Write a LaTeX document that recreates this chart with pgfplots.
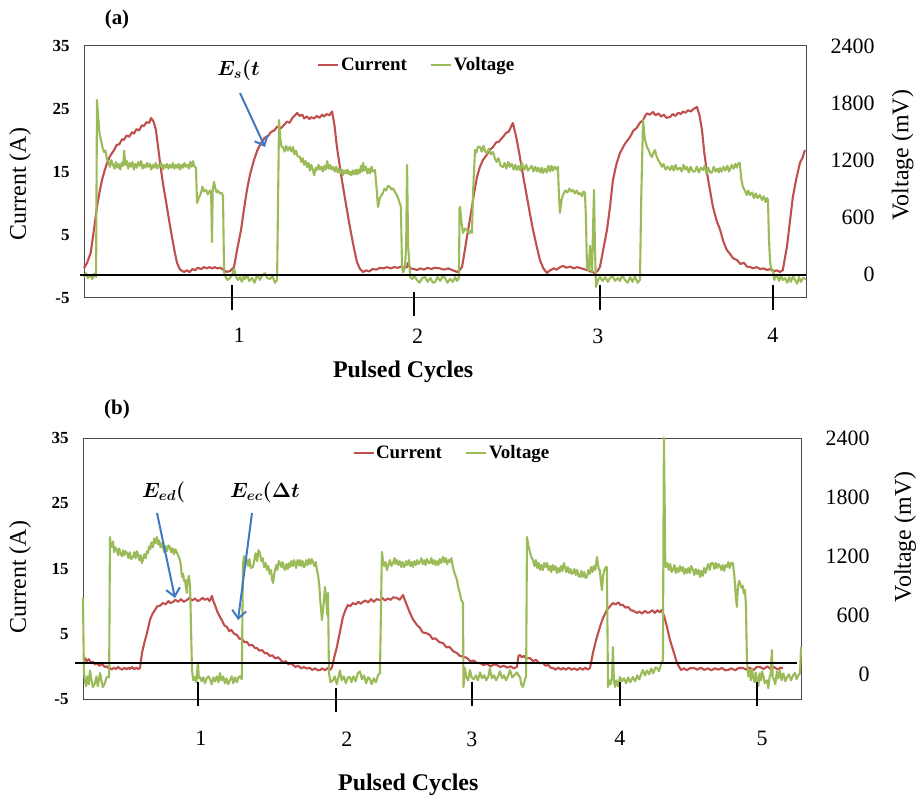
\documentclass[border=0pt]{standalone}
\usepackage{fontspec}
\setmainfont{Liberation Serif}
\usepackage{bm}
\usepackage{pgfplots}
\pgfplotsset{compat=1.18}
\usetikzlibrary{arrows.meta}
\definecolor{cur}{RGB}{192,80,77}
\definecolor{volt}{RGB}{155,187,89}
\definecolor{arr}{RGB}{65,120,195}
\tikzset{ttl/.style={font=\fontsize{24}{24}\selectfont, anchor=center}}
\pgfplotsset{
  leftax/.style={scale only axis, anchor=south west, clip=false,
    ymin=-5, ymax=35, ytick={-5,5,15,25,35}, yticklabels={-5,5,15,25,35},
    axis line style={draw=black!70, line width=1bp}, tick style={draw=none},
    yticklabel style={font=\bfseries\fontsize{17}{17}\selectfont, xshift=-11bp},
    xticklabel style={font=\fontsize{22}{22}\selectfont},
    ylabel={Current (A)}, xlabel={\textbf{Pulsed Cycles}}},
  rightax/.style={scale only axis, anchor=south west, clip=false,
    axis x line=none, axis y line*=right,
    ymin=-250, ymax=2400, ytick={0,600,1200,1800,2400}, yticklabels={0,600,1200,1800,2400},
    axis line style={draw=black!70, line width=1bp}, tick style={draw=none},
    yticklabel style={font=\fontsize{22}{22}\selectfont, anchor=east, xshift=72bp},
    ylabel={Voltage (mV)},
    legend image code/.code={\draw[##1] (0bp,0bp) -- (20bp,0bp);},
    legend style={draw=none, fill=none, anchor=west, legend columns=2,
      font=\bfseries\fontsize{19}{19}\selectfont, inner sep=0pt,
      nodes={inner sep=1.5bp},
      /tikz/every even column/.append style={column sep=22bp}}},
  cline/.style={cur, line width=2.1bp, line join=round},
  vline/.style={volt, line width=2.1bp, line join=round},
}
\begin{document}
\begin{tikzpicture}
\useasboundingbox (0,0) rectangle (919bp,800bp);
% ================= panel (a) =================
\begin{axis}[leftax, at={(84bp,502bp)}, width=722bp, height=252bp,
  xmin=0.179, xmax=4.184, xtick={1.04,2.03,3.03,4.0}, xticklabels={1,2,3,4},
  xticklabel style={yshift=-27bp},
  every axis x label/.style={at={(axis description cs:0.442,-0.294)}, ttl},
  every axis y label/.style={at={(axis description cs:-0.0886,0.452)}, rotate=90, ttl}]
\addplot[cline] coordinates {
(0.179,-0.24) (0.195,0.5) (0.216,2.14) (0.235,6.0) (0.251,9.44) (0.265,11.8) (0.279,13.73) (0.293,15.2) (0.307,16.43) (0.325,17.6) (0.346,18.49)
(0.36,19.3) (0.375,19.4) (0.39,20.2) (0.401,20.1) (0.415,20.8) (0.43,20.6) (0.445,21.3) (0.456,21.1) (0.47,21.8) (0.485,21.6) (0.50,22.4) (0.512,22.3) (0.525,22.9) (0.54,22.8) (0.551,23.57)
(0.565,23.0) (0.578,21.67) (0.592,18.5) (0.606,15.32) (0.622,12.3) (0.639,9.44) (0.653,7.0) (0.667,4.68) (0.681,2.5) (0.695,0.56) (0.712,-0.5) (0.734,-0.87)
(0.75,-0.6) (0.765,-0.9) (0.78,-0.4) (0.795,-0.6) (0.81,-0.2) (0.828,-0.4) (0.845,-0.1) (0.86,-0.3) (0.875,-0.1) (0.89,-0.3) (0.905,-0.1) (0.917,-0.3) (0.935,-0.2) (0.95,-0.5) (0.972,-0.87) (0.99,-0.7)
(1.011,-0.08) (1.03,2.9) (1.050,5.79) (1.066,9.0) (1.083,12.14) (1.10,14.6) (1.122,16.90) (1.14,18.4) (1.161,19.60) (1.18,20.4) (1.20,20.7) (1.216,21.35) (1.235,21.6) (1.25,22.2) (1.27,21.9) (1.288,22.46) (1.305,23.0) (1.32,22.8) (1.335,23.6) (1.35,24.0) (1.361,24.37) (1.375,23.9) (1.39,24.1) (1.40,23.5) (1.415,23.8) (1.43,23.4) (1.438,23.7) (1.455,23.5) (1.47,23.9) (1.485,23.6) (1.50,24.1) (1.510,23.8) (1.525,24.2) (1.54,24.0) (1.555,24.6)
(1.568,22.5) (1.582,18.97) (1.60,15.5) (1.616,12.62) (1.635,9.4) (1.654,6.27) (1.673,3.4) (1.693,0.71) (1.71,-0.4) (1.727,-0.87)
(1.745,-0.6) (1.76,-0.8) (1.78,-0.4) (1.80,-0.5) (1.821,-0.2) (1.84,-0.3) (1.86,-0.1) (1.88,-0.3) (1.90,-0.1) (1.92,-0.2) (1.94,0.0) (1.96,-0.2) (1.971,-0.08) (1.976,0.56) (1.99,-0.3) (2.01,-0.4) (2.026,-0.56) (2.045,-0.3) (2.065,-0.5) (2.085,-0.2) (2.105,-0.4) (2.125,-0.2) (2.154,-0.3) (2.175,-0.5) (2.20,-0.3) (2.225,-0.6) (2.248,-0.87) (2.262,-0.6)
(2.276,-0.08) (2.29,2.3) (2.303,4.68) (2.317,7.0) (2.331,9.44) (2.345,12.0) (2.359,14.21) (2.375,15.8) (2.392,16.90) (2.41,17.6) (2.43,18.5) (2.448,18.97) (2.465,19.7) (2.48,19.8) (2.503,20.56) (2.52,21.2) (2.535,21.4) (2.548,22.2) (2.558,22.78)
(2.577,20.5) (2.597,17.38) (2.616,14.2) (2.636,11.03) (2.653,8.3) (2.670,5.79) (2.69,3.2) (2.708,1.03) (2.727,-0.3) (2.747,-1.03)
(2.765,-0.6) (2.785,-0.3) (2.80,-0.5) (2.82,-0.1) (2.836,0.1) (2.855,-0.2) (2.875,0.0) (2.895,-0.3) (2.915,-0.1) (2.931,-0.24) (2.95,-0.4) (2.969,-0.56) (2.99,-0.8) (3.013,-1.03) (3.028,-0.7)
(3.041,-0.08) (3.06,2.8) (3.080,5.79) (3.097,9.5) (3.113,13.73) (3.132,16.2) (3.152,18.02) (3.18,19.5) (3.208,20.56) (3.225,21.5) (3.245,22.0) (3.262,22.8) (3.280,23.25) (3.30,24.3) (3.318,24.1) (3.335,24.52) (3.35,24.0) (3.365,24.3) (3.38,23.8) (3.395,24.1) (3.41,23.6) (3.430,23.73) (3.445,24.2) (3.46,23.9) (3.475,24.4) (3.49,24.2) (3.501,24.6) (3.515,24.4) (3.53,24.8) (3.545,24.6) (3.56,25.0) (3.579,25.32)
(3.593,24.0) (3.607,21.67) (3.62,18.0) (3.635,14.84) (3.652,12.0) (3.668,9.44) (3.688,7.3) (3.708,5.79) (3.725,4.0) (3.745,2.62) (3.765,1.9) (3.78,1.3) (3.801,1.03) (3.82,0.4) (3.84,0.6) (3.855,0.0) (3.873,-0.08) (3.89,-0.3) (3.91,-0.1) (3.93,-0.4) (3.95,-0.3) (3.967,-0.56) (3.985,-0.4) (4.005,-0.8) (4.02,-0.6) (4.039,-0.87) (4.055,-0.6)
(4.078,3.10) (4.095,7.2) (4.111,11.03) (4.13,13.9) (4.150,16.43) (4.165,17.3) (4.178,18.49)};
\end{axis}
\begin{axis}[rightax, at={(84bp,502bp)}, width=722bp, height=252bp,
  xmin=0.179, xmax=4.184,
  every axis y label/.style={at={(axis description cs:1.134,0.567)}, rotate=90, ttl},
  legend style={at={(0.323,0.925)}}]
\addlegendimage{cline}\addlegendentry{Current}
\addplot[vline] coordinates {
(0.179,-29) (0.19,10) (0.20,-40) (0.212,-8) (0.225,-50) (0.236,5) (0.246,-29)
(0.251,1832) (0.258,1650) (0.265,1480) (0.273,1412) (0.282,1330) (0.290,1285) (0.298,1300) (0.307,1201)
(0.315,1180) (0.323,1128) (0.331,1200) (0.340,1150) (0.348,1110) (0.356,1180) (0.364,1120) (0.372,1160) (0.380,1100) (0.388,1170) (0.396,1140) (0.402,1300) (0.408,1150) (0.416,1190) (0.424,1110) (0.432,1170) (0.440,1130) (0.448,1180) (0.456,1100) (0.464,1160) (0.472,1120) (0.480,1180) (0.488,1140) (0.496,1190) (0.504,1110) (0.512,1150) (0.520,1120) (0.528,1170) (0.536,1130) (0.544,1160) (0.552,1100) (0.560,1150) (0.568,1120) (0.576,1170) (0.584,1110) (0.592,1150) (0.600,1130) (0.608,1170) (0.616,1100) (0.624,1150) (0.632,1120) (0.640,1160) (0.648,1110) (0.656,1150) (0.664,1120) (0.672,1170) (0.680,1110) (0.688,1150) (0.696,1120) (0.704,1160) (0.712,1100) (0.720,1150) (0.728,1120) (0.736,1170) (0.744,1130) (0.752,1150) (0.760,1110) (0.768,1180) (0.776,1130) (0.784,1190) (0.789,1140)
(0.800,1120) (0.806,749) (0.815,800) (0.828,854) (0.836,920) (0.845,870) (0.856,886) (0.866,840) (0.878,880) (0.884,860) (0.889,339) (0.893,886) (0.900,970) (0.908,900) (0.915,860) (0.922,880) (0.932,850) (0.944,854) (0.950,820) (0.956,23)
(0.965,-30) (0.975,-60) (0.989,-40) (1.000,-10) (1.011,60) (1.02,-20) (1.033,-60) (1.045,-30) (1.055,-80) (1.065,-20) (1.072,-50) (1.085,-10) (1.095,-70) (1.111,-40) (1.125,-90) (1.135,-30) (1.144,-20) (1.155,-60) (1.168,-10) (1.183,10) (1.195,-40) (1.211,-50) (1.225,-20) (1.238,-90) (1.250,-61)
(1.261,1622) (1.268,1420) (1.275,1338) (1.283,1338) (1.292,1290) (1.300,1350) (1.310,1300) (1.320,1340) (1.330,1290) (1.338,1338) (1.346,1260) (1.355,1300) (1.364,1240) (1.377,1233) (1.385,1180) (1.393,1220) (1.400,1150) (1.408,1190) (1.416,1128) (1.424,1170) (1.432,1090) (1.440,1150) (1.448,1100) (1.456,1040) (1.464,1120) (1.471,1096) (1.480,1150) (1.488,1100) (1.496,1130) (1.504,1080) (1.512,1140) (1.520,1100) (1.528,1190) (1.536,1110) (1.544,1150) (1.552,1100) (1.561,1128) (1.570,1080) (1.578,1130) (1.586,1070) (1.594,1110) (1.602,1060) (1.610,1100) (1.616,1043) (1.624,1090) (1.632,1060) (1.640,1100) (1.648,1050) (1.654,1080) (1.662,1040) (1.670,1090) (1.678,1050) (1.686,1100) (1.693,1050) (1.700,1100) (1.708,1060) (1.716,1140) (1.722,1080) (1.727,1170) (1.735,1090) (1.743,1130) (1.751,1060) (1.758,1110) (1.766,1060) (1.774,1130) (1.782,1080) (1.793,1096)
(1.800,950) (1.810,707) (1.820,800) (1.837,854) (1.845,900) (1.855,880) (1.865,930) (1.876,917) (1.885,890) (1.895,900) (1.905,860) (1.915,833) (1.925,780) (1.937,707) (1.943,76) (1.950,20) (1.960,90) (1.966,300) (1.971,1149) (1.977,300) (1.988,-29)
(2.000,-50) (2.012,-20) (2.026,-61) (2.04,-90) (2.055,-40) (2.071,-30) (2.085,-80) (2.10,-40) (2.115,-90) (2.127,-80) (2.14,-30) (2.155,-70) (2.168,-20) (2.182,-40) (2.195,-90) (2.21,-50) (2.225,-80) (2.238,-30) (2.248,-70) (2.259,-40)
(2.262,700) (2.265,707) (2.272,560) (2.281,434) (2.292,480) (2.303,465) (2.315,430) (2.325,460) (2.331,434) (2.338,900) (2.348,1306) (2.356,1280) (2.364,1340) (2.376,1338) (2.385,1290) (2.395,1350) (2.404,1290) (2.414,1275) (2.425,1320) (2.436,1260) (2.448,1285) (2.458,1220) (2.468,1180) (2.478,1220) (2.490,1140) (2.503,1128) (2.512,1170) (2.522,1110) (2.532,1180) (2.542,1130) (2.552,1160) (2.562,1100) (2.572,1150) (2.581,1096) (2.590,1140) (2.600,1090) (2.608,1170) (2.614,1130) (2.622,1100) (2.632,1150) (2.642,1090) (2.653,1117) (2.662,1140) (2.672,1080) (2.682,1130) (2.692,1080) (2.700,1120) (2.710,1070) (2.718,1120) (2.725,1065) (2.735,1110) (2.745,1070) (2.755,1140) (2.764,1080) (2.772,1140) (2.780,1090) (2.790,1130) (2.800,1100) (2.808,1128)
(2.812,900) (2.819,644) (2.828,780) (2.836,833) (2.848,880) (2.860,860) (2.872,900) (2.881,870) (2.891,886) (2.902,850) (2.912,880) (2.922,840) (2.931,854) (2.942,820) (2.950,870) (2.958,854) (2.963,600) (2.969,76) (2.978,30) (2.986,300) (2.992,100) (2.997,23) (3.003,500) (3.008,886) (3.013,300) (3.019,-134)
(3.03,-60) (3.041,-29) (3.055,-70) (3.07,-30) (3.085,-80) (3.097,-40) (3.11,-20) (3.125,-70) (3.14,-40) (3.152,-70) (3.165,-10) (3.18,-60) (3.195,-90) (3.208,-30) (3.222,-80) (3.235,-20) (3.25,-90) (3.263,-60)
(3.270,800) (3.280,1622) (3.290,1420) (3.302,1338) (3.312,1300) (3.322,1250) (3.330,1233) (3.338,1280) (3.346,1306) (3.355,1240) (3.364,1200) (3.374,1170) (3.384,1130) (3.394,1160) (3.404,1100) (3.416,1130) (3.430,1096) (3.440,1140) (3.450,1090) (3.460,1150) (3.470,1100) (3.485,1120) (3.495,1080) (3.505,1150) (3.515,1100) (3.524,1128) (3.534,1070) (3.544,1130) (3.556,1080) (3.568,1080) (3.578,1130) (3.590,1070) (3.600,1120) (3.613,1096) (3.622,1140) (3.632,1060) (3.642,1120) (3.652,1070) (3.663,1070) (3.672,1130) (3.682,1080) (3.692,1110) (3.700,1070) (3.707,1117) (3.716,1080) (3.726,1130) (3.736,1090) (3.748,1140) (3.756,1080) (3.762,1100) (3.772,1150) (3.782,1110) (3.792,1160) (3.800,1120) (3.810,1170) (3.817,1170)
(3.825,1000) (3.834,917) (3.845,880) (3.855,833) (3.864,880) (3.873,833) (3.885,860) (3.895,800) (3.905,850) (3.915,800) (3.928,833) (3.940,780) (3.950,820) (3.960,760) (3.968,800) (3.973,781) (3.978,400) (3.984,150) (3.990,60) (4.001,44) (4.008,-60) (4.015,-10)
(4.023,-20) (4.035,-70) (4.045,-10) (4.055,-60) (4.068,-40) (4.08,-90) (4.09,-30) (4.10,-80) (4.112,-20) (4.123,-60) (4.135,-100) (4.145,-30) (4.155,-80) (4.168,-40) (4.184,-50)};
\addlegendentry{Voltage}
\draw[black, line width=2.3bp] (axis cs:0.157,-8) -- (axis cs:4.184,-8);
\draw[black, line width=1.8bp] (axis cs:1.0,-113) -- (axis cs:1.0,-376);
\draw[black, line width=1.8bp] (axis cs:2.009,-187) -- (axis cs:2.009,-439);
\draw[black, line width=1.8bp] (axis cs:3.041,-113) -- (axis cs:3.041,-376);
\draw[black, line width=1.8bp] (axis cs:4.0,-113) -- (axis cs:4.0,-376);
\end{axis}
% ================= panel (b) =================
\begin{axis}[leftax, at={(83bp,101bp)}, width=718bp, height=261bp,
  xmin=0.179, xmax=5.317, xtick={1.023,2.068,2.962,4.021,5.038}, xticklabels={1,2,3,4,5},
  xticklabel style={yshift=-29bp},
  every axis x label/.style={at={(axis description cs:0.453,-0.33)}, ttl},
  every axis y label/.style={at={(axis description cs:-0.0877,0.467)}, rotate=90, ttl}]
\addplot[cline] coordinates {
(0.185,1.3) (0.193,1.28) (0.205,0.8) (0.22,1.1) (0.235,0.6) (0.250,0.67) (0.265,0.3) (0.28,0.5) (0.295,0.1) (0.31,0.3) (0.322,0.21) (0.335,-0.1) (0.35,0.0) (0.362,-0.3) (0.372,-0.25) (0.385,-0.5) (0.40,-0.2) (0.415,-0.4) (0.43,-0.1) (0.444,-0.35) (0.46,-0.5) (0.475,-0.2) (0.49,-0.45) (0.505,-0.2) (0.515,-0.4) (0.53,-0.1) (0.545,-0.45) (0.56,-0.2) (0.575,-0.4) (0.587,-0.25)
(0.601,2.05) (0.62,3.8) (0.637,5.11) (0.658,7.11) (0.675,8.0) (0.694,8.64) (0.71,9.2) (0.73,9.3) (0.751,9.71) (0.77,9.5) (0.79,10.0) (0.805,9.7) (0.823,9.87) (0.84,10.2) (0.86,9.9) (0.88,10.3) (0.90,9.9) (0.923,10.17) (0.94,10.5) (0.96,10.1) (0.98,10.4) (1.00,10.0) (1.016,10.17) (1.035,10.5) (1.05,10.2) (1.07,10.4) (1.085,10.0) (1.102,10.8) (1.109,10.17)
(1.125,9.3) (1.14,8.4) (1.159,7.57) (1.175,7.0) (1.19,6.3) (1.209,6.03) (1.225,5.4) (1.24,5.6) (1.26,5.0) (1.281,4.8) (1.30,4.2) (1.315,4.3) (1.335,3.7) (1.352,3.74) (1.37,3.2) (1.39,3.3) (1.41,2.8) (1.424,2.82) (1.44,2.4) (1.46,2.5) (1.48,2.0) (1.496,2.05) (1.515,1.6) (1.535,1.7) (1.555,1.2) (1.575,1.4) (1.589,1.1) (1.61,0.6) (1.63,0.8) (1.65,0.3) (1.665,0.5) (1.682,0.21) (1.70,-0.1) (1.72,0.1) (1.74,-0.3) (1.76,-0.1) (1.782,-0.35) (1.80,-0.2) (1.82,-0.55) (1.84,-0.3) (1.86,-0.6) (1.875,-0.56) (1.89,-0.3) (1.91,-0.6) (1.932,-0.25) (1.95,-0.5) (1.961,-0.10)
(1.978,1.5) (1.996,2.97) (2.015,5.0) (2.039,7.57) (2.058,8.7) (2.075,9.41) (2.09,9.2) (2.11,9.7) (2.13,9.5) (2.15,9.9) (2.165,9.6) (2.182,9.87) (2.20,10.1) (2.22,9.8) (2.24,10.3) (2.26,9.9) (2.28,10.3) (2.304,10.17) (2.32,10.5) (2.34,10.1) (2.36,10.4) (2.38,10.2) (2.40,10.6) (2.426,10.47) (2.445,10.2) (2.469,10.94) (2.48,10.3)
(2.50,9.2) (2.519,8.18) (2.54,7.2) (2.569,6.34) (2.59,5.9) (2.61,5.2) (2.635,5.1) (2.662,4.81) (2.68,4.2) (2.70,4.3) (2.73,3.7) (2.755,3.58) (2.78,2.9) (2.80,3.0) (2.83,2.3) (2.855,2.05) (2.875,1.6) (2.90,1.5) (2.927,1.28) (2.95,0.8) (2.975,0.9) (3.00,0.5) (3.020,0.52) (3.045,0.2) (3.07,0.4) (3.095,0.0) (3.12,0.3) (3.141,0.21) (3.165,-0.1) (3.19,0.1) (3.215,-0.2) (3.24,0.0) (3.26,-0.3) (3.284,-0.10)
(3.295,1.6) (3.306,1.74) (3.32,1.4) (3.335,1.6) (3.35,1.2) (3.377,1.28) (3.40,0.8) (3.42,1.0) (3.445,0.5) (3.470,0.52) (3.49,0.1) (3.51,0.2) (3.525,-0.2) (3.542,-0.25) (3.56,-0.5) (3.58,-0.2) (3.60,-0.5) (3.614,-0.25) (3.635,-0.5) (3.655,-0.2) (3.675,-0.5) (3.695,-0.3) (3.715,-0.55) (3.735,-0.25) (3.755,-0.5) (3.775,-0.2) (3.79,-0.5) (3.807,-0.25)
(3.828,2.05) (3.85,4.0) (3.878,6.03) (3.90,7.4) (3.928,8.64) (3.95,9.2) (3.971,9.71) (3.99,9.5) (4.01,9.8) (4.025,9.4) (4.043,9.41) (4.06,9.0) (4.08,9.1) (4.10,8.6) (4.12,8.5) (4.143,8.18) (4.16,8.4) (4.18,8.1) (4.20,8.5) (4.22,8.2) (4.236,8.33) (4.255,8.6) (4.27,8.2) (4.29,8.6) (4.305,8.3) (4.322,8.64)
(4.34,7.5) (4.358,6.03) (4.38,4.0) (4.408,2.05) (4.43,0.5) (4.458,-0.56) (4.48,-0.3) (4.50,-0.6) (4.52,-0.3) (4.551,-0.25) (4.575,-0.5) (4.60,-0.2) (4.625,-0.55) (4.65,-0.3) (4.675,-0.6) (4.70,-0.3) (4.725,-0.5) (4.75,-0.25) (4.775,-0.6) (4.794,-0.56) (4.82,-0.3) (4.845,-0.6) (4.87,-0.25) (4.902,-0.25) (4.925,-0.5) (4.95,-0.2) (4.975,-0.6) (5.00,-0.1) (5.024,-0.10) (5.05,-0.4) (5.075,0.0) (5.10,-0.4) (5.125,-0.1) (5.15,-0.5) (5.17,-0.2) (5.188,-0.25)};
\end{axis}
\begin{axis}[rightax, at={(83bp,101bp)}, width=718bp, height=261bp,
  xmin=0.179, xmax=5.317,
  every axis y label/.style={at={(axis description cs:1.145,0.621)}, rotate=90, ttl},
  legend style={at={(0.375,0.943)}}]
\addlegendimage{cline}\addlegendentry{Current}
\addplot[vline] coordinates {
(0.179,775) (0.183,300) (0.186,14) (0.193,-60) (0.20,-120) (0.21,-20) (0.22,-100) (0.229,40) (0.24,-60) (0.25,-130) (0.265,-88) (0.275,-20) (0.285,-120) (0.301,14) (0.31,-60) (0.322,-130) (0.336,-90) (0.345,-40) (0.358,-20) (0.366,-30)
(0.372,1395) (0.378,1300) (0.386,1293) (0.394,1350) (0.402,1240) (0.410,1290) (0.422,1263) (0.430,1210) (0.438,1280) (0.446,1230) (0.458,1200) (0.466,1260) (0.474,1210) (0.484,1250) (0.494,1232) (0.504,1180) (0.514,1240) (0.524,1170) (0.537,1192) (0.546,1240) (0.556,1180) (0.564,1250) (0.572,1220) (0.582,1160) (0.592,1210) (0.600,1130) (0.608,1161) (0.618,1220) (0.628,1180) (0.636,1250) (0.644,1230) (0.652,1300) (0.660,1270) (0.668,1340) (0.673,1334) (0.680,1290) (0.688,1380) (0.696,1330) (0.708,1395) (0.716,1320) (0.724,1360) (0.734,1290) (0.742,1330) (0.751,1293) (0.760,1240) (0.770,1300) (0.780,1250) (0.790,1310) (0.801,1293) (0.810,1240) (0.820,1280) (0.830,1220) (0.840,1270) (0.852,1232) (0.862,1200) (0.873,1161) (0.880,1100) (0.887,989) (0.895,1020) (0.902,950) (0.909,958) (0.916,880) (0.923,826) (0.927,960) (0.930,958) (0.937,1000) (0.945,900) (0.950,600) (0.959,44)
(0.968,-60) (0.980,-27) (0.990,-80) (0.996,30) (1.002,120) (1.008,-40) (1.016,-27) (1.028,-70) (1.040,-30) (1.052,-90) (1.064,-40) (1.076,-20) (1.088,-50) (1.10,-100) (1.112,-30) (1.124,-70) (1.136,-20) (1.148,-80) (1.159,14) (1.170,-60) (1.182,-20) (1.194,-90) (1.206,-40) (1.218,-100) (1.231,-60) (1.243,-20) (1.255,-90) (1.268,-30) (1.280,-80) (1.292,-30) (1.302,-20) (1.315,-50)
(1.324,1131) (1.332,1200) (1.340,1120) (1.352,1161) (1.360,1100) (1.370,1170) (1.380,1080) (1.395,1090) (1.405,1160) (1.415,1230) (1.425,1150) (1.435,1260) (1.445,1232) (1.455,1150) (1.465,1180) (1.475,1090) (1.485,1130) (1.496,1060) (1.505,1100) (1.515,1020) (1.525,1060) (1.532,960) (1.539,928) (1.546,1000) (1.553,1060) (1.562,1110) (1.570,1060) (1.580,1150) (1.589,1131) (1.598,1090) (1.608,1140) (1.616,1080) (1.624,1060) (1.634,1120) (1.644,1070) (1.652,1130) (1.660,1090) (1.670,1150) (1.680,1100) (1.690,1160) (1.696,1130) (1.704,1080) (1.714,1160) (1.724,1110) (1.732,1161) (1.740,1100) (1.750,1150) (1.760,1090) (1.767,1100) (1.776,1160) (1.786,1110) (1.796,1170) (1.806,1120) (1.816,1170) (1.825,1141) (1.835,1100) (1.845,1140) (1.853,1060) (1.862,1000) (1.870,900) (1.875,786) (1.880,700) (1.889,552) (1.900,700) (1.911,887) (1.920,750) (1.928,600) (1.932,826) (1.936,400) (1.939,14)
(1.95,-80) (1.968,-60) (1.98,-20) (1.995,-100) (2.005,-40) (2.018,40) (2.03,-60) (2.045,-20) (2.06,-90) (2.075,-30) (2.089,-27) (2.10,-80) (2.115,-20) (2.13,-70) (2.145,10) (2.161,30) (2.175,-50) (2.19,-10) (2.205,-90) (2.22,-30) (2.233,-50) (2.245,-100) (2.26,-40) (2.275,-80) (2.29,-10) (2.304,14)
(2.318,1243) (2.326,1150) (2.334,1100) (2.344,1140) (2.354,1060) (2.364,1110) (2.376,1160) (2.386,1100) (2.397,1130) (2.408,1180) (2.416,1120) (2.426,1161) (2.436,1110) (2.446,1150) (2.456,1090) (2.466,1140) (2.476,1090) (2.483,1100) (2.492,1150) (2.502,1110) (2.512,1160) (2.522,1100) (2.530,1140) (2.540,1090) (2.550,1150) (2.560,1110) (2.570,1160) (2.580,1120) (2.590,1140) (2.600,1180) (2.610,1120) (2.620,1160) (2.630,1110) (2.640,1170) (2.652,1131) (2.662,1131) (2.672,1180) (2.682,1120) (2.692,1160) (2.702,1110) (2.712,1150) (2.722,1110) (2.732,1170) (2.742,1130) (2.755,1192) (2.765,1140) (2.775,1180) (2.785,1120) (2.795,1160) (2.805,1140) (2.815,1180) (2.826,1090) (2.835,1040) (2.845,1000) (2.855,958) (2.862,900) (2.870,850) (2.876,826) (2.885,760) (2.893,740) (2.898,725) (2.902,-128)
(2.906,-50) (2.912,65) (2.92,-20) (2.935,-60) (2.948,44) (2.96,-30) (2.975,-50) (2.99,-10) (3.005,-60) (3.020,20) (3.035,-40) (3.05,-10) (3.065,-60) (3.08,-20) (3.091,60) (3.105,-40) (3.12,-10) (3.135,-60) (3.15,-20) (3.163,30) (3.178,-40) (3.192,-10) (3.207,-60) (3.22,-20) (3.235,44) (3.25,-30) (3.265,-10) (3.284,20) (3.295,-10) (3.306,-27) (3.315,-100) (3.327,-128) (3.34,-60) (3.35,-20)
(3.356,1395) (3.364,1320) (3.372,1270) (3.377,1243) (3.388,1190) (3.399,1161) (3.410,1100) (3.420,1160) (3.430,1080) (3.440,1130) (3.449,1060) (3.460,1110) (3.470,1060) (3.480,1130) (3.490,1090) (3.499,1131) (3.510,1060) (3.520,1100) (3.530,1040) (3.540,1110) (3.550,1060) (3.560,1100) (3.571,1029) (3.580,1080) (3.590,1040) (3.600,1100) (3.610,1050) (3.620,1130) (3.628,1090) (3.638,1040) (3.648,1090) (3.658,1030) (3.668,1070) (3.676,1020) (3.685,1029) (3.695,1070) (3.705,1010) (3.715,1060) (3.725,1000) (3.735,989) (3.745,1050) (3.755,990) (3.765,1040) (3.775,980) (3.785,989) (3.795,1060) (3.805,1020) (3.815,1090) (3.825,1040) (3.835,1100) (3.845,1060) (3.857,1192) (3.866,1100) (3.872,1060) (3.878,1060) (3.884,950) (3.893,857) (3.900,1000) (3.910,1060) (3.920,1090) (3.928,1090) (3.936,-128)
(3.945,-60) (3.955,-100) (3.965,-20) (3.971,278) (3.978,-60) (3.986,-128) (3.995,-60) (4.008,-120) (4.021,-27) (4.035,-70) (4.05,-40) (4.065,-90) (4.08,-30) (4.095,-80) (4.114,-27) (4.13,-70) (4.145,-10) (4.16,-50) (4.175,10) (4.186,44) (4.20,-10) (4.215,40) (4.23,0) (4.245,60) (4.26,10) (4.275,70) (4.286,65) (4.30,30) (4.315,100) (4.329,146)
(4.332,1200) (4.336,2400) (4.341,1800) (4.346,1100) (4.351,1090) (4.361,1130) (4.371,1060) (4.381,1120) (4.391,1040) (4.401,1060) (4.411,1110) (4.421,1030) (4.431,1080) (4.441,1040) (4.451,1100) (4.461,1050) (4.471,1090) (4.481,1020) (4.491,1070) (4.501,1029) (4.511,1080) (4.521,1030) (4.531,1100) (4.544,1060) (4.554,1010) (4.564,1070) (4.574,1020) (4.584,1060) (4.594,989) (4.604,1050) (4.614,1000) (4.624,1080) (4.634,1030) (4.644,1080) (4.654,1120) (4.664,1060) (4.674,1130) (4.687,1131) (4.697,1070) (4.707,1130) (4.717,1080) (4.727,1120) (4.737,1100) (4.747,1060) (4.757,1110) (4.767,1050) (4.777,1110) (4.787,1090) (4.797,1140) (4.807,1080) (4.817,1130) (4.830,1131) (4.840,1000) (4.850,800) (4.858,684) (4.866,900) (4.875,950) (4.880,928) (4.890,880) (4.900,900) (4.908,820) (4.916,857) (4.923,700) (4.930,146)
(4.940,-20) (4.950,40) (4.958,-60) (4.966,60) (4.975,-30) (4.985,-80) (4.993,20) (5.002,-50) (5.012,-120) (5.020,10) (5.030,-60) (5.038,30) (5.048,-20) (5.058,-90) (5.073,-60) (5.083,-140) (5.093,-20) (5.100,0) (5.105,150) (5.109,247) (5.114,-30) (5.123,-50) (5.133,-100) (5.145,30) (5.155,-40) (5.166,40) (5.178,-60) (5.19,10) (5.205,-70) (5.216,-30) (5.23,0) (5.245,-60) (5.26,-10) (5.274,14) (5.285,-50) (5.298,-10) (5.309,10) (5.314,150) (5.317,278)};
\addlegendentry{Voltage}
\draw[black, line width=1.5bp] (axis cs:0.122,115) -- (axis cs:5.288,115);
\draw[black, line width=1.8bp] (axis cs:1.002,-77) -- (axis cs:1.002,-321);
\draw[black, line width=1.8bp] (axis cs:1.989,-138) -- (axis cs:1.989,-382);
\draw[black, line width=1.8bp] (axis cs:2.962,-77) -- (axis cs:2.962,-321);
\draw[black, line width=1.8bp] (axis cs:4.021,-77) -- (axis cs:4.021,-321);
\draw[black, line width=1.8bp] (axis cs:5.002,-77) -- (axis cs:5.002,-321);
\end{axis}
% ================= annotations =================
\node[font=\bfseries\fontsize{21}{21}\selectfont] at (117bp,781bp) {(a)};
\node[font=\bfseries\fontsize{21}{21}\selectfont] at (117bp,391bp) {(b)};
\node[anchor=west, inner sep=0pt, font=\fontsize{22}{22}\selectfont] at (217bp,730bp) {$\bm{E_{s}(t}$};
\node[anchor=west, inner sep=0pt, font=\fontsize{20}{20}\selectfont] at (142bp,308bp) {$\bm{E_{ed}(}$};
\node[anchor=west, inner sep=0pt, font=\fontsize{20}{20}\selectfont] at (230bp,308bp) {$\bm{E_{ec}(\Delta t}$};
\draw[arr, line width=2bp, -{Straight Barb[length=8bp,width=14bp]}] (240bp,707bp) -- (265bp,653bp);
\draw[arr, line width=2bp, -{Straight Barb[length=8bp,width=14bp]}] (157bp,287bp) -- (175bp,202bp);
\draw[arr, line width=2bp, -{Straight Barb[length=8bp,width=14bp]}] (252bp,287bp) -- (238bp,180bp);
\end{tikzpicture}
\end{document}
